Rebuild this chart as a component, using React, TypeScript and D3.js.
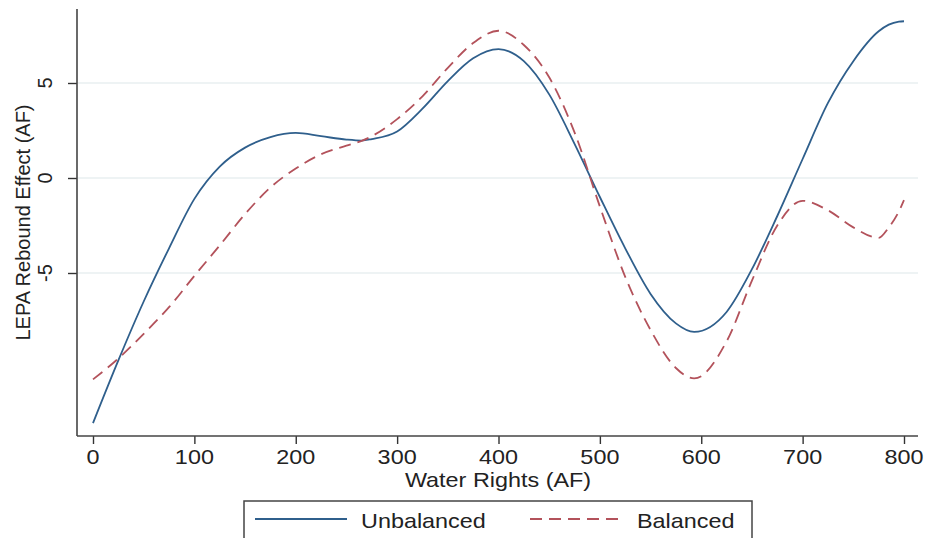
import React, { useEffect, useRef } from "react";
import * as d3 from "d3";

const WIDTH = 932;
const HEIGHT = 538;

// water rights (AF)
const xValues = [
  0, 25, 50, 75, 100, 125, 150, 175, 200, 225, 250, 265, 275, 300, 325, 350,
  375, 400, 425, 450, 475, 500, 525, 550, 575, 593, 625, 650, 675, 700, 725,
  750, 775, 785, 795, 800,
];

const unbalanced = [
  -12.9, -9.6, -6.5, -3.7, -1.1, 0.6, 1.6, 2.15, 2.37, 2.2, 2.02, 1.97, 2.05,
  2.45, 3.65, 5.1, 6.3, 6.78, 6.15, 4.4, 1.8, -1.0, -3.7, -6.1, -7.65, -8.1,
  -7.05, -4.8, -2.0, 1.0, 3.95, 6.15, 7.72, 8.07, 8.23, 8.25,
];

const balanced = [
  -10.6, -9.5, -8.2, -6.8, -5.15, -3.55, -1.9, -0.5, 0.5, 1.25, 1.7, 1.95,
  2.2, 3.1, 4.3, 5.8, 7.1, 7.75, 7.0, 5.3, 2.4, -1.5, -5.2, -8.0, -10.0,
  -10.55, -8.6, -5.4, -2.5, -1.2, -1.7, -2.6, -3.15, -2.6, -1.75, -1.16,
];

const xTicks = [0, 100, 200, 300, 400, 500, 600, 700, 800];
const yTicks = [-5, 0, 5];

const seriesNames = ["Unbalanced", "Balanced"];
const seriesColors = ["#2f5f8c", "#b3525b"];

const STRETCH = 1.17; // the original graph is a little wider than tall

export default function App() {
  const axesRef = useRef(null);

  const xScale = d3.scaleLinear().domain([0, 800]).range([93, 904]);
  const yScale = d3.scaleLinear().domain([-5, 5]).range([273, 83]);

  const plotLeft = 77;
  const plotRight = 918;
  const plotTop = 9;
  const plotBottom = 436;

  const line = d3
    .line<[number, number]>()
    .x((d) => xScale(d[0]))
    .y((d) => yScale(d[1]))
    .curve(d3.curveMonotoneX);

  const blueData = xValues.map((x, i) => [x, unbalanced[i]] as [number, number]);
  const redData = xValues.map((x, i) => [x, balanced[i]] as [number, number]);

  useEffect(() => {
    const g = d3.select(axesRef.current);
    g.selectAll("*").remove();

    // X axis
    const xAxis = g
      .append("g")
      .attr("transform", `translate(0, ${plotBottom})`)
      .call(d3.axisBottom(xScale).tickValues(xTicks).tickSize(8).tickFormat(() => ""));
    xAxis.select(".domain").remove();
    xAxis.selectAll(".tick line").attr("stroke", "#333").attr("stroke-width", 1.4);

    g.append("line")
      .attr("x1", plotLeft)
      .attr("x2", plotRight)
      .attr("y1", plotBottom)
      .attr("y2", plotBottom)
      .attr("stroke", "#444")
      .attr("stroke-width", 1.6);

    xTicks.forEach((t) => {
      g.append("text")
        .attr("transform", `translate(${xScale(t)}, 464) scale(${STRETCH}, 1)`)
        .attr("text-anchor", "middle")
        .attr("font-size", 20)
        .attr("fill", "#222")
        .text(t);
    });

    // Y axis
    const yAxis = g
      .append("g")
      .attr("transform", `translate(${plotLeft}, 0)`)
      .call(d3.axisLeft(yScale).tickValues(yTicks).tickSize(9).tickFormat(() => ""));
    yAxis.select(".domain").remove();
    yAxis.selectAll(".tick line").attr("stroke", "#333").attr("stroke-width", 1.4);

    g.append("line")
      .attr("x1", plotLeft)
      .attr("x2", plotLeft)
      .attr("y1", plotTop)
      .attr("y2", plotBottom)
      .attr("stroke", "#444")
      .attr("stroke-width", 1.6);

    yTicks.forEach((t) => {
      g.append("text")
        .attr("transform", `translate(52, ${yScale(t)}) rotate(-90)`)
        .attr("text-anchor", "middle")
        .attr("font-size", 20)
        .attr("fill", "#222")
        .text(t);
    });

    // Axis titles
    g.append("text")
      .attr("transform", `translate(30, ${(plotTop + plotBottom) / 2}) rotate(-90)`)
      .attr("text-anchor", "middle")
      .attr("font-size", 20)
      .attr("fill", "#222")
      .text("LEPA Rebound Effect (AF)");

    g.append("text")
      .attr("transform", `translate(498, 487) scale(${STRETCH}, 1)`)
      .attr("text-anchor", "middle")
      .attr("font-size", 20)
      .attr("fill", "#222")
      .text("Water Rights (AF)");
  }, []);

  return (
    <svg
      width={WIDTH}
      height={HEIGHT}
      style={{ position: "absolute", left: 0, top: 0, background: "#fff" }}
      fontFamily="'Liberation Sans', Arial, sans-serif"
    >
      <rect x={0} y={0} width={WIDTH} height={HEIGHT} fill="#fff" />
      {/* grid */}
      {yTicks.map((t) => (
        <line
          key={t}
          x1={plotLeft + 1}
          x2={plotRight}
          y1={yScale(t)}
          y2={yScale(t)}
          stroke="#e8eff1"
          strokeWidth={1.3}
        />
      ))}
      <path
        d={line(blueData) || ""}
        fill="none"
        stroke={seriesColors[0]}
        strokeWidth={1.8}
      />
      <path
        d={line(redData) || ""}
        fill="none"
        stroke={seriesColors[1]}
        strokeWidth={1.8}
        strokeDasharray="12 7"
      />
      <g ref={axesRef} />

      {/* legend */}
      <rect x={244} y={501} width={508} height={50} fill="#fff" stroke="#444" strokeWidth={1.5} />
      <line x1={255} x2={347} y1={519} y2={519} stroke={seriesColors[0]} strokeWidth={1.8} />
      <text
        transform={`translate(361, 528) scale(${STRETCH}, 1)`}
        fontSize={20}
        fill="#222"
      >
        {seriesNames[0]}
      </text>
      <line
        x1={530}
        x2={622}
        y1={519}
        y2={519}
        stroke={seriesColors[1]}
        strokeWidth={1.8}
        strokeDasharray="12 7"
      />
      <text
        transform={`translate(637, 528) scale(${STRETCH}, 1)`}
        fontSize={20}
        fill="#222"
      >
        {seriesNames[1]}
      </text>
    </svg>
  );
}
